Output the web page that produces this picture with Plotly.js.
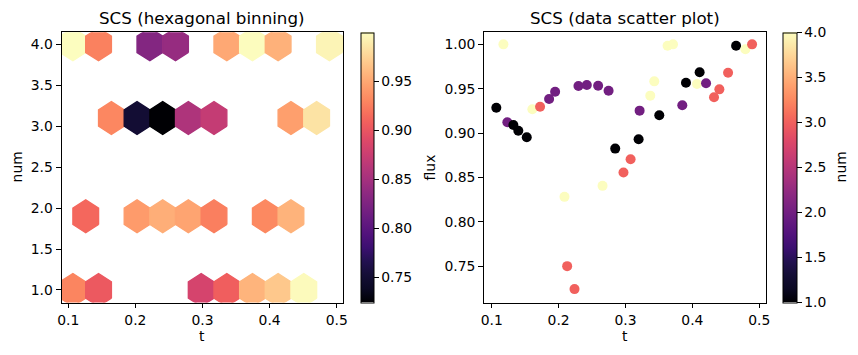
<!DOCTYPE html>
<html><head><meta charset="utf-8">
<script src="https://cdn.plot.ly/plotly-3.0.1.min.js"></script>
<style>html,body{margin:0;padding:0;background:#fff}#chart{width:858px;height:355px}</style>
</head><body><div id="chart"></div>
<script>
// ---- data ----
const t = [0.1069,0.1175,0.1234,0.1324,0.1398,0.1524,0.1608,0.1723,0.1858,0.1948,
           0.2088,0.2128,0.2238,0.2297,0.2422,0.2591,0.2657,0.2747,0.2846,0.2970,
           0.3076,0.3196,0.3211,0.3370,0.3430,0.3505,0.3629,0.3710,0.3849,0.3904,
           0.4069,0.4108,0.4204,0.4323,0.4403,0.4533,0.4653,0.4792,0.4892];
const flux = [0.9286,1.0000,0.9122,0.9091,0.9027,0.8953,0.9268,0.9297,0.9384,0.9466,
              0.8281,0.7500,0.7241,0.9530,0.9542,0.9534,0.8405,0.9478,0.8825,0.8555,
              0.8705,0.8930,0.9253,0.9422,0.9583,0.9200,0.9984,1.0000,0.9313,0.9568,
              0.9553,0.9685,0.9561,0.9403,0.9493,0.9680,0.9984,0.9944,1.0000];
const num = [1,4,2,1,1,1,4,3,2,2,
             4,3,3,2,2,2,4,2,1,3,
             3,1,2,4,4,1,4,4,2,1,
             4,1,2,3,3,3,1,4,3];
const xTickVals = [0.1,0.2,0.3,0.4,0.5];
const xTickText = ['0.1','0.2','0.3','0.4','0.5'];
const numTickVals = [1.0,1.5,2.0,2.5,3.0,3.5,4.0];
const numTickText = ['1.0','1.5','2.0','2.5','3.0','3.5','4.0'];
const fluxTickVals = [0.75,0.80,0.85,0.90,0.95,1.00];
const fluxTickText = ['0.75','0.80','0.85','0.90','0.95','1.00'];
const hexCbTickVals = [0.75,0.80,0.85,0.90,0.95];
const hexCbTickText = ['0.75','0.80','0.85','0.90','0.95'];
const gridSize = [10, 5];

// ---- magma colormap ----
const magmaStops = [
 [0.00,'#000004'],[0.05,'#0b0924'],[0.10,'#140e36'],[0.15,'#221150'],[0.20,'#3b0f70'],
 [0.25,'#51127c'],[0.30,'#641a80'],[1/3,'#721f81'],[0.35,'#782281'],[0.40,'#8c2981'],
 [0.45,'#a3307e'],[0.50,'#b73779'],[0.55,'#cc3f71'],[0.60,'#de4968'],[0.65,'#ed5a5f'],
 [2/3,'#f1605d'],[0.70,'#f7705c'],[0.75,'#fc8961'],[0.80,'#fe9f6d'],[0.85,'#feb77e'],
 [0.90,'#fecf92'],[0.95,'#fce7a8'],[1.00,'#fcfdbf']];
function hex2rgb(h){return [parseInt(h.substr(1,2),16),parseInt(h.substr(3,2),16),parseInt(h.substr(5,2),16)];}
function magma(f){
  f=Math.max(0,Math.min(1,f));
  for(let i=1;i<magmaStops.length;i++){
    if(f<=magmaStops[i][0]){
      const a=magmaStops[i-1],b=magmaStops[i];
      const u=(f-a[0])/(b[0]-a[0]);
      const ca=hex2rgb(a[1]),cb=hex2rgb(b[1]);
      const c=ca.map((v,k)=>Math.round(v+(cb[k]-v)*u));
      return 'rgb('+c.join(',')+')';
    }
  }
  return magmaStops[magmaStops.length-1][1];
}

// ---- hexagonal binning (same lattice as matplotlib hexbin) ----
const nx=gridSize[0], ny=gridSize[1];
let xmin=Math.min(...t), xmax=Math.max(...t);
const ymin=Math.min(...num), ymax=Math.max(...num);
const pad=1e-9*(xmax-xmin); xmin-=pad; xmax+=pad;
const sx=(xmax-xmin)/nx, sy=(ymax-ymin)/ny;
const bins={};
for(let i=0;i<t.length;i++){
  const ix=(t[i]-xmin)/sx, iy=(num[i]-ymin)/sy;
  const ix1=Math.round(ix), iy1=Math.round(iy), ix2=Math.floor(ix), iy2=Math.floor(iy);
  const d1=(ix-ix1)**2+3*(iy-iy1)**2;
  const d2=(ix-ix2-0.5)**2+3*(iy-iy2-0.5)**2;
  let key,cx,cy;
  if(d1<d2){key='a'+ix1+'_'+iy1;cx=xmin+ix1*sx;cy=ymin+iy1*sy;}
  else{key='b'+ix2+'_'+iy2;cx=xmin+(ix2+0.5)*sx;cy=ymin+(iy2+0.5)*sy;}
  if(!bins[key])bins[key]={cx:cx,cy:cy,vals:[]};
  bins[key].vals.push(flux[i]);
}
const cells=Object.values(bins).map(b=>({cx:b.cx,cy:b.cy,v:b.vals.reduce((s,a)=>s+a,0)/b.vals.length}));
const vmin=Math.min(...cells.map(c=>c.v)), vmax=Math.max(...cells.map(c=>c.v));
const hexOff=[[0.5,-0.5],[0.5,0.5],[0,1],[-0.5,0.5],[-0.5,-0.5],[0,-1],[0.5,-0.5]];

const FONT='DejaVu Sans, Liberation Sans, sans-serif';
const traces=[];
cells.forEach(c=>{
  const col=magma((c.v-vmin)/(vmax-vmin));
  traces.push({type:'scatter',mode:'lines',fill:'toself',fillcolor:col,
    x:hexOff.map(o=>c.cx+o[0]*sx), y:hexOff.map(o=>c.cy+o[1]*sy/3),
    line:{color:col,width:1.4}, hoverinfo:'skip', xaxis:'x', yaxis:'y', showlegend:false});
});
const H=355, W=858;
const yDom=[(H-302.5)/H,(H-32.3)/H];
const cbCommon={lenmode:'fraction',len:yDom[1]-yDom[0],y:yDom[0],yanchor:'bottom',
  thicknessmode:'pixels',xanchor:'left',xpad:0,ypad:0,outlinewidth:1,outlinecolor:'#000',
  borderwidth:0,ticks:'outside',ticklen:4.5,tickwidth:1,tickcolor:'#000',
  tickfont:{family:FONT,size:13.9,color:'#000'}};
// colour bar carrier for the hexbin panel
traces.push({type:'scatter',mode:'markers',x:cells.map(c=>c.cx),y:cells.map(c=>c.cy),
  hoverinfo:'skip',xaxis:'x',yaxis:'y',showlegend:false,
  marker:{color:cells.map(c=>c.v),colorscale:magmaStops,cmin:vmin,cmax:vmax,opacity:0,size:1,
    showscale:true,colorbar:Object.assign({},cbCommon,{x:360.7/W,thickness:13.3,
      tickvals:hexCbTickVals,ticktext:hexCbTickText})}});
// scatter panel
traces.push({type:'scatter',mode:'markers',x:t,y:flux,xaxis:'x2',yaxis:'y2',showlegend:false,
  marker:{color:num,colorscale:magmaStops,cmin:1,cmax:4,size:10,line:{width:0},
    showscale:true,colorbar:Object.assign({},cbCommon,{x:783.3/W,thickness:14,
      tickvals:numTickVals,ticktext:numTickText})}});

const axCommon={ticks:'outside',ticklen:4.9,tickwidth:1,tickcolor:'#000',showline:true,mirror:true,
  linecolor:'#000',linewidth:1,showgrid:false,zeroline:false,fixedrange:true,
  tickfont:{family:FONT,size:13.9,color:'#000'}};
const layout={width:W,height:H,margin:{l:0,r:0,t:0,b:0},paper_bgcolor:'#fff',plot_bgcolor:'#fff',
  showlegend:false,font:{family:FONT,color:'#000'},
  xaxis:Object.assign({},axCommon,{domain:[61.5/W,343/W],range:[0.0899,0.5094],anchor:'y',
    tickvals:xTickVals,ticktext:xTickText}),
  yaxis:Object.assign({},axCommon,{domain:yDom,range:[0.847,4.147],anchor:'x',
    tickvals:numTickVals,ticktext:numTickText}),
  xaxis2:Object.assign({},axCommon,{domain:[484/W,766/W],range:[0.0885,0.5100],anchor:'y2',
    tickvals:xTickVals,ticktext:xTickText}),
  yaxis2:Object.assign({},axCommon,{domain:yDom,range:[0.709,1.0136],anchor:'x2',
    tickvals:fluxTickVals,ticktext:fluxTickText}),
  annotations:[
    {text:'SCS (hexagonal binning)',x:(61.5+343)/2/W,y:(H-18)/H,xref:'paper',yref:'paper',xanchor:'center',yanchor:'middle',showarrow:false,font:{family:FONT,size:16.7,color:'#000'}},
    {text:'SCS (data scatter plot)',x:(484+766)/2/W,y:(H-18)/H,xref:'paper',yref:'paper',xanchor:'center',yanchor:'middle',showarrow:false,font:{family:FONT,size:16.7,color:'#000'}},
    {text:'t',x:(61.5+343)/2/W,y:(H-336)/H,xref:'paper',yref:'paper',xanchor:'center',yanchor:'middle',showarrow:false,font:{family:FONT,size:13.9,color:'#000'}},
    {text:'t',x:(484+766)/2/W,y:(H-336)/H,xref:'paper',yref:'paper',xanchor:'center',yanchor:'middle',showarrow:false,font:{family:FONT,size:13.9,color:'#000'}},
    {text:'num',x:17/W,y:(H-167.4)/H,xref:'paper',yref:'paper',xanchor:'center',yanchor:'middle',textangle:-90,showarrow:false,font:{family:FONT,size:13.9,color:'#000'}},
    {text:'flux',x:430/W,y:(H-167.4)/H,xref:'paper',yref:'paper',xanchor:'center',yanchor:'middle',textangle:-90,showarrow:false,font:{family:FONT,size:13.9,color:'#000'}},
    {text:'num',x:841/W,y:(H-167.4)/H,xref:'paper',yref:'paper',xanchor:'center',yanchor:'middle',textangle:-90,showarrow:false,font:{family:FONT,size:13.9,color:'#000'}}
  ]};
Plotly.newPlot('chart',traces,layout,{displayModeBar:false,staticPlot:true});
</script></body></html>
